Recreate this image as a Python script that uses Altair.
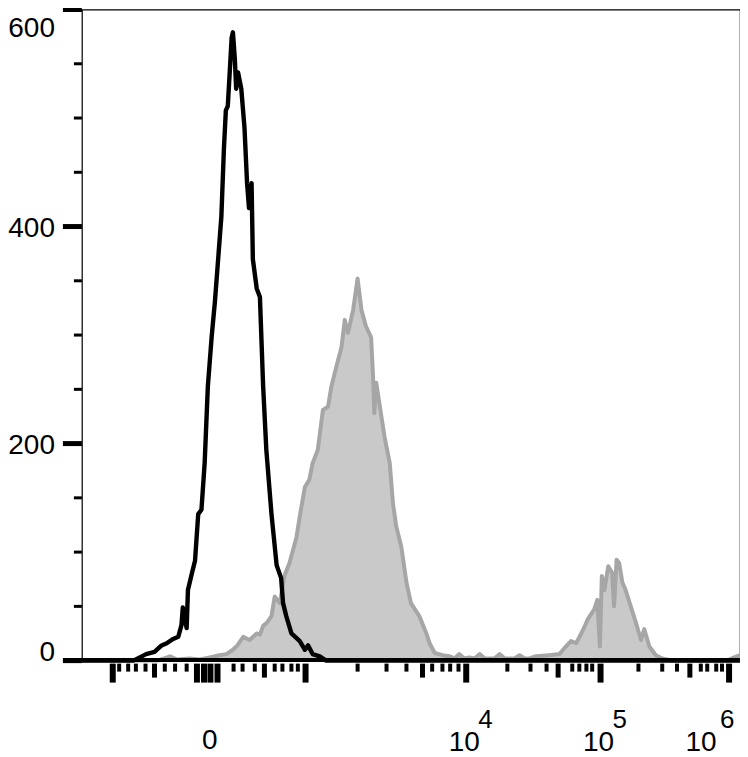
import altair as alt
import pandas as pd

# ---- data (x in display channels 0..1024, y in event counts) ----
black_channel = [0, 80, 100, 113, 124, 132, 142, 150, 155, 157, 163, 165, 171, 176, 181, 186,
                 191, 196, 202, 207, 212, 217, 221, 224, 227, 230, 233, 235, 238, 240, 243, 248,
                 253, 257, 260, 264, 266, 272, 277, 282, 287, 295, 303, 310, 313, 318, 326, 339,
                 347, 352, 359, 370, 380, 1024]
black_count = [0, 0, 6, 8, 14, 16, 20, 22, 33, 49, 30, 65, 80, 92, 135, 139,
               182, 253, 299, 331, 370, 409, 472, 507, 511, 542, 574, 579, 554, 527, 542, 527,
               491, 440, 417, 440, 370, 343, 335, 253, 194, 135, 88, 76, 53, 41, 25, 18,
               10, 14, 6, 4, 0, 0]

gray_channel = [0, 118, 137, 148, 168, 183, 199, 214, 225, 235, 242, 251, 261, 272, 277, 282,
                288, 295, 300, 308, 315, 323, 334, 339, 347, 354, 359, 367, 375, 383, 388, 396,
                404, 409, 414, 422, 429, 435, 442, 450, 453, 455, 458, 466, 471, 479, 484, 489,
                497, 505, 512, 525, 536, 541, 549, 561, 572, 580, 587, 595, 603, 611, 619, 627,
                634, 642, 650, 658, 665, 673, 681, 689, 696, 707, 727, 743, 753, 761, 769, 777,
                782, 787, 797, 802, 806, 809, 813, 819, 825, 828, 832, 836, 841, 846, 854, 862,
                870, 875, 883, 893, 903, 919, 1004, 1015, 1024]
gray_count = [0, 0, 4, 1, 2, 1, 3, 5, 6, 10, 14, 22, 19, 25, 24, 32,
              35, 41, 59, 53, 78, 90, 114, 133, 160, 167, 182, 194, 231, 234, 252, 271,
              289, 314, 302, 323, 352, 323, 308, 298, 262, 228, 256, 225, 206, 182, 145, 124,
              105, 72, 53, 41, 25, 16, 7, 5, 4, 2, 6, 2, 3, 2, 6, 2,
              2, 2, 6, 2, 2, 2, 5, 2, 2, 4, 5, 6, 13, 18, 16, 25,
              31, 38, 47, 56, 13, 78, 65, 87, 81, 50, 93, 90, 72, 65, 50, 35,
              19, 29, 13, 5, 2, 0, 0, 3, 5]

# axis ticks
y_major = [0, 200, 400, 600]
y_minor = [50, 100, 150, 250, 300, 350, 450, 500, 550]
x_long = [48, 179, 190, 200, 211, 348, 598, 807, 1007]
x_medium = [113, 284, 530, 741, 946]
x_short = [58, 72, 84, 99, 129, 145, 163, 236, 250, 269, 300, 312, 326, 336,
           429, 474, 505, 545, 561, 573, 586, 662, 698, 723, 763, 774, 785, 794,
           866, 903, 926, 963, 973, 987, 996]

# axis labels
y_labels_mid = [200, 400]
y_label_top = [600]
y_label_bottom = [0]
x_zero_pos = [199]
x_pow_pos = [598, 807]
x_pow_exp = ["4", "5"]
x_last_pos = [1007]
x_last_exp = ["6"]

W, H = 659, 652
FONT = "Arial"
xs = alt.Scale(domain=[0, 1024], nice=False, zero=False)
ys = alt.Scale(domain=[0, 600], nice=False, zero=True)

def X(field="v"):
    return alt.X(f"{field}:Q", scale=xs, axis=None)

def Y(field="v"):
    return alt.Y(f"{field}:Q", scale=ys, axis=None)

gray_df = pd.DataFrame({"channel": gray_channel, "count": gray_count})
black_df = pd.DataFrame({"channel": black_channel, "count": black_count})

gray = alt.Chart(gray_df).mark_area(
    color="#c9c9c9", opacity=1, fillOpacity=1, interpolate="linear",
    line={"color": "#a6a6a6", "strokeWidth": 4, "strokeJoin": "round"},
).encode(x=X("channel"), y=Y("count"))

black = alt.Chart(black_df).mark_line(
    color="black", strokeWidth=4.4, interpolate="linear", strokeJoin="round"
).encode(x=X("channel"), y=Y("count"))

one = pd.DataFrame({"v": [0]})
baseline = alt.Chart(one).mark_rule(color="black", strokeWidth=4).encode(
    x=alt.value(-19), x2=alt.value(W), y=alt.value(H - 0.5))

ymaj = alt.Chart(pd.DataFrame({"v": y_major})).mark_rule(color="black", strokeWidth=5).encode(
    y=Y(), x=alt.value(-19), x2=alt.value(0))
ymin = alt.Chart(pd.DataFrame({"v": y_minor})).mark_rule(color="black", strokeWidth=3).encode(
    y=Y(), x=alt.value(-8), x2=alt.value(0))

xl = alt.Chart(pd.DataFrame({"v": x_long})).mark_rule(color="black", strokeWidth=6).encode(
    x=X(), y=alt.value(H + 3), y2=alt.value(H + 22))
xm = alt.Chart(pd.DataFrame({"v": x_medium})).mark_rule(color="black", strokeWidth=5).encode(
    x=X(), y=alt.value(H + 3), y2=alt.value(H + 17))
xsh = alt.Chart(pd.DataFrame({"v": x_short})).mark_rule(color="black", strokeWidth=4).encode(
    x=X(), y=alt.value(H + 3), y2=alt.value(H + 11))

def ytext(vals, dy):
    return alt.Chart(pd.DataFrame({"v": vals})).mark_text(
        font=FONT, fontSize=28, align="right", baseline="alphabetic", dy=dy, color="black"
    ).encode(y=Y(), x=alt.value(-27), text=alt.Text("v:Q", format="d"))

yl_mid = ytext(y_labels_mid, 10)
yl_top = ytext(y_label_top, 28)
yl_bot = ytext(y_label_bottom, 0)

x0 = alt.Chart(pd.DataFrame({"v": x_zero_pos, "t": ["0"]})).mark_text(
    font=FONT, fontSize=28, align="center", baseline="alphabetic", color="black"
).encode(x=X(), y=alt.value(H + 88), text="t:N")

pow_df = pd.DataFrame({"v": x_pow_pos, "e": x_pow_exp, "b": ["10"] * len(x_pow_pos)})
last_df = pd.DataFrame({"v": x_last_pos, "e": x_last_exp, "b": ["10"] * len(x_last_pos)})

pb = alt.Chart(pow_df).mark_text(
    font=FONT, fontSize=28, align="center", baseline="alphabetic", dx=-2, color="black"
).encode(x=X(), y=alt.value(H + 91), text="b:N")
pe = alt.Chart(pow_df).mark_text(
    font=FONT, fontSize=26, align="left", baseline="alphabetic", dx=12, color="black"
).encode(x=X(), y=alt.value(H + 67), text="e:N")
lb = alt.Chart(last_df).mark_text(
    font=FONT, fontSize=28, align="center", baseline="alphabetic", dx=-28, color="black"
).encode(x=X(), y=alt.value(H + 91), text="b:N")
le = alt.Chart(last_df).mark_text(
    font=FONT, fontSize=26, align="left", baseline="alphabetic", dx=-9, color="black"
).encode(x=X(), y=alt.value(H + 67), text="e:N")

chart = alt.layer(
    gray, black, baseline, ymaj, ymin, xl, xm, xsh, yl_mid, yl_top, yl_bot, x0, pb, pe, lb, le
).properties(
    width=W, height=H,
    padding={"left": 74, "top": 1, "right": 0, "bottom": 96},
    autosize=alt.AutoSizeParams(type="none"),
).configure_view(stroke="black", strokeWidth=1.2)

chart.save("out.html", embed_options={"renderer": "svg", "actions": False})
